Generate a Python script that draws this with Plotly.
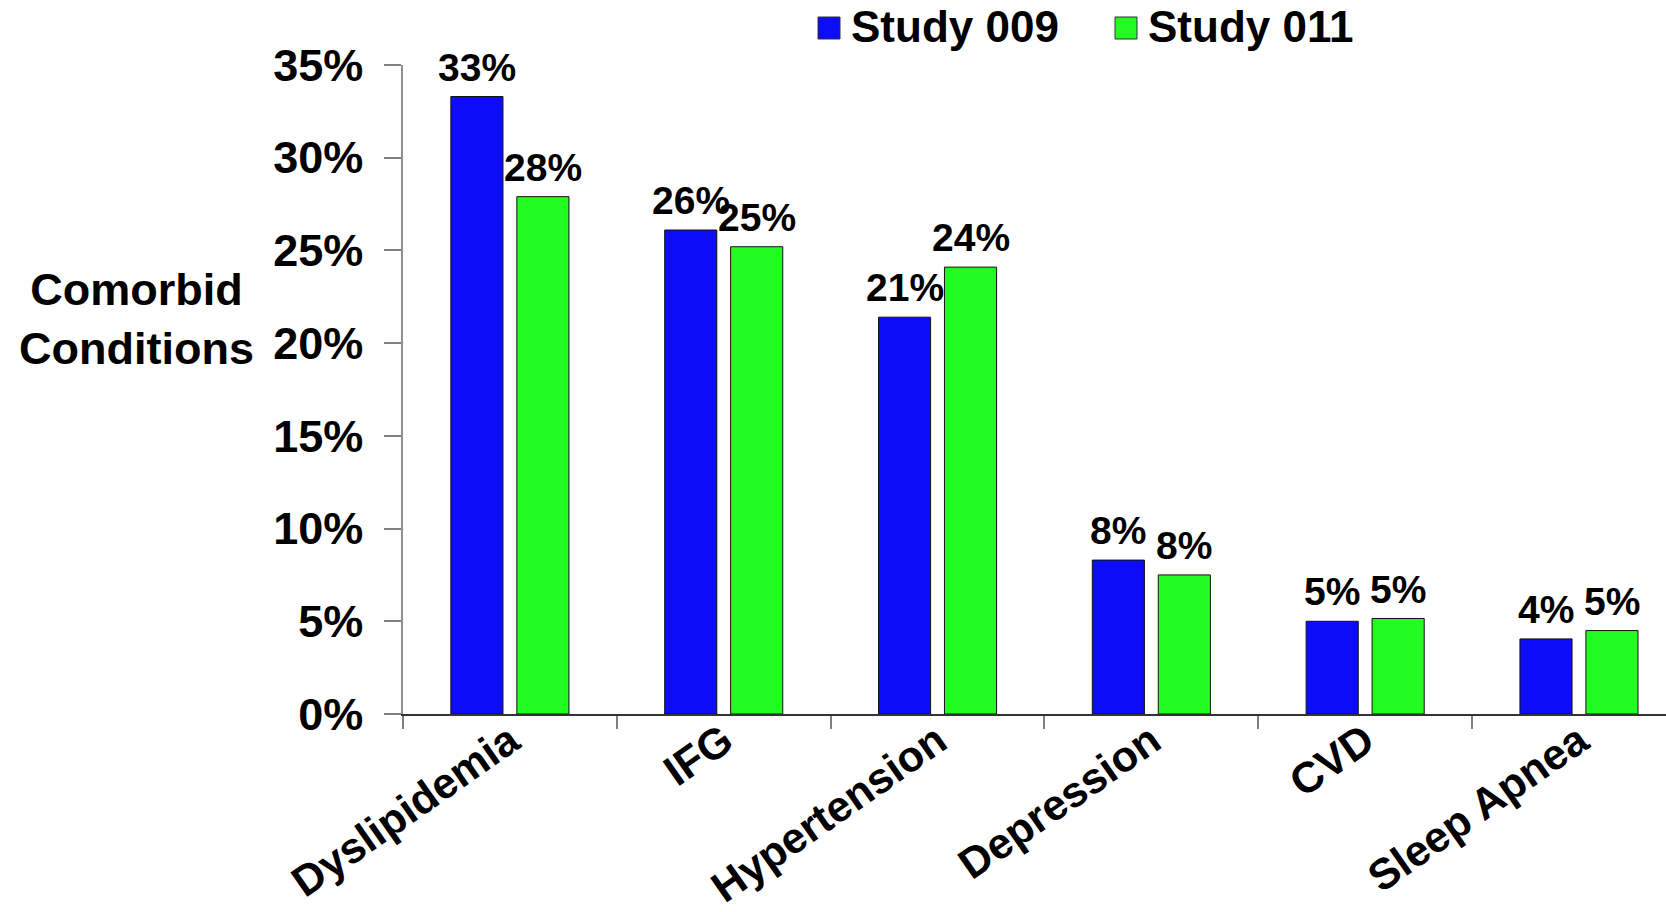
import plotly.graph_objects as go

# Comorbid conditions by study (percent of patients)
categories = ["Dyslipidemia", "IFG", "Hypertension", "Depression", "CVD", "Sleep Apnea"]
study_009 = [33.3, 26.1, 21.4, 8.3, 5.0, 4.05]
study_011 = [27.9, 25.2, 24.1, 7.5, 5.15, 4.5]
series_names = ["Study 009", "Study 011"]
series_colors = ["#0C0CF8", "#22FC22"]
y_ticks = [0, 5, 10, 15, 20, 25, 30, 35]

# Canvas / plot-area geometry (pixels)
W, H = 1666, 912
ML, MR, MT, MB = 403, 0, 65, 198
PW, PH = W - ML - MR, H - MT - MB
X_RANGE = [-0.5, 5.407]
BARGAP, GROUPGAP = 0.383, 0.21
FONT = "Liberation Sans, Arial, sans-serif"


def paper_x(px):
    return (px - ML) / PW


def paper_y(py):
    return (H - MB - py) / PH


def pct(v):
    return f"{int(v + 0.5)}%"


fig = go.Figure()
series = [study_009, study_011]
for name, vals, col in zip(series_names, series, series_colors):
    fig.add_trace(go.Bar(
        x=categories, y=vals, name=name, showlegend=False,
        marker=dict(color=col, line=dict(color="#111111", width=1)),
    ))

# Value labels above each bar
px_per_cat = PW / (X_RANGE[1] - X_RANGE[0])
slot = (1 - BARGAP) / 2
annotations = []
for i, vals in enumerate(series):
    shift = (i - 0.5) * slot * px_per_cat
    for c, v in zip(categories, vals):
        annotations.append(dict(
            x=c, y=v, xref="x", yref="y", text=pct(v), showarrow=False,
            xanchor="center", yanchor="bottom", xshift=shift, yshift=6,
            font=dict(family=FONT, size=39, color="black", weight="bold"),
        ))

# Axis title
annotations.append(dict(
    x=paper_x(136), y=paper_y(319), xref="paper", yref="paper",
    text="Comorbid<br>Conditions", showarrow=False, align="center",
    xanchor="center", yanchor="middle",
    font=dict(family=FONT, size=45, color="black", weight="bold"),
))

# Legend drawn with squares and labels
shapes = []
legend_x = [818, 1115]
for lx, name, col in zip(legend_x, series_names, series_colors):
    shapes.append(dict(
        type="rect", xref="paper", yref="paper",
        x0=paper_x(lx), x1=paper_x(lx + 22), y0=paper_y(39), y1=paper_y(17),
        fillcolor=col, line=dict(color="#333333", width=1),
    ))
    annotations.append(dict(
        x=paper_x(lx + 31), y=paper_y(27), xref="paper", yref="paper",
        text=name, showarrow=False, xanchor="left", yanchor="middle",
        font=dict(family=FONT, size=44, color="black", weight="bold"),
    ))

fig.update_layout(
    width=W, height=H,
    margin=dict(l=ML, r=MR, t=MT, b=MB, pad=0, autoexpand=False),
    paper_bgcolor="white", plot_bgcolor="white",
    barmode="group", bargap=BARGAP, bargroupgap=GROUPGAP,
    showlegend=False,
    annotations=annotations, shapes=shapes,
    xaxis=dict(
        type="category", range=X_RANGE, tickson="boundaries", automargin=False,
        ticks="outside", ticklen=13, tickcolor="#808080", tickwidth=1.5,
        showline=True, linecolor="#333333", linewidth=1.5,
        showgrid=False, tickangle=-35, ticklabelstandoff=-17,
        tickfont=dict(family=FONT, size=43, color="black", weight="bold"),
    ),
    yaxis=dict(
        range=[0, 35], tickvals=y_ticks, ticktext=[f"{v}%" for v in y_ticks],
        automargin=False,
        ticks="outside", ticklen=17, tickcolor="#808080", tickwidth=1.5,
        showline=True, linecolor="#909090", linewidth=1.5,
        showgrid=False, zeroline=False, ticklabelstandoff=12,
        tickfont=dict(family=FONT, size=45, color="black", weight="bold"),
    ),
)

fig.write_html("out.html")
